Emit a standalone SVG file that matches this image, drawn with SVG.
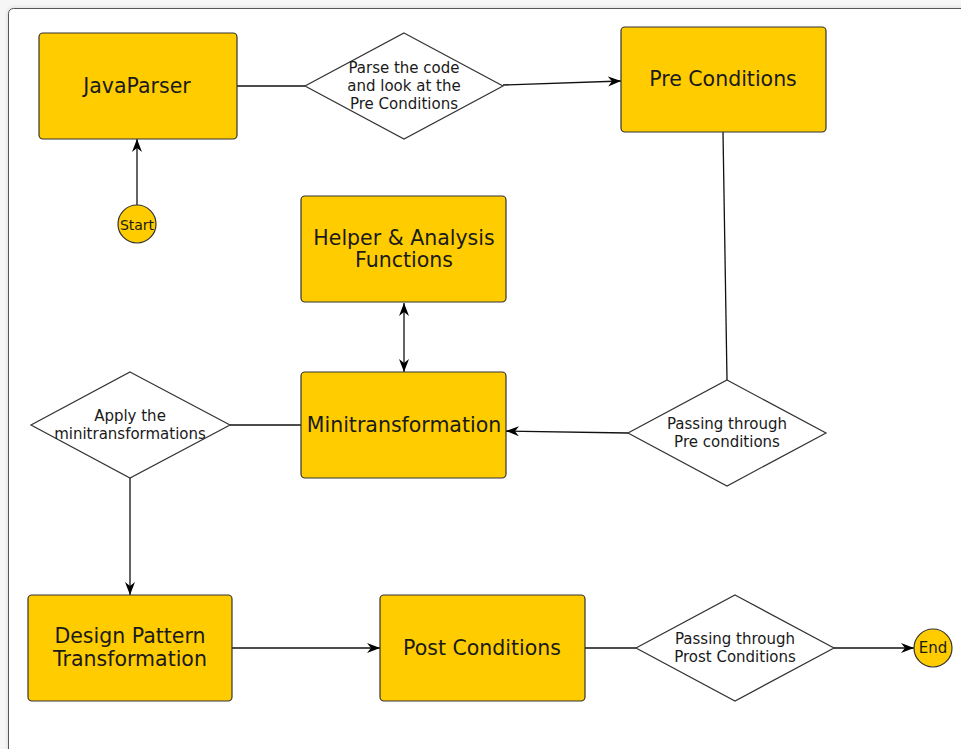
<svg xmlns="http://www.w3.org/2000/svg" width="961" height="749" viewBox="0 0 961 749">
  <defs>
    <marker id="arrow" markerWidth="14" markerHeight="12" viewBox="0 0 14 12" refX="13" refY="6" orient="auto-start-reverse" markerUnits="userSpaceOnUse">
      <path d="M0,1 L13,6 L0,11 L4,6 Z" fill="#000"/>
    </marker>
    <filter id="frameShadow" x="-5%" y="-5%" width="110%" height="110%">
      <feGaussianBlur in="SourceAlpha" stdDeviation="2"/>
      <feOffset dx="0" dy="0"/>
      <feComponentTransfer><feFuncA type="linear" slope="0.15"/></feComponentTransfer>
      <feMerge><feMergeNode/><feMergeNode in="SourceGraphic"/></feMerge>
    </filter>
  </defs>
  <style>
    .box { fill: #ffcc00; stroke: #333; stroke-width: 1.2; }
    .dia { fill: #fff; stroke: #333; stroke-width: 1.2; }
    .lbl { font-family: "DejaVu Sans", Verdana, sans-serif; fill: #1a1a1a; text-anchor: middle; dominant-baseline: central; }
    .big { font-size: 20.5px; }
    .small { font-size: 15px; }
    .tiny { font-size: 14px; }
    .conn line { stroke: #111; stroke-width: 1.3; fill: none; }
  </style>

  <!-- page background and canvas frame -->
  <rect x="0" y="0" width="961" height="749" fill="#f6f6f6"/>
  <rect x="8.5" y="8.5" width="980" height="780" rx="5" fill="#fff" stroke="#555" stroke-width="1" filter="url(#frameShadow)"/>

  <!-- connectors -->
  <g id="connectors" class="conn">
    <line x1="137" y1="205" x2="137" y2="139" marker-end="url(#arrow)"/>
    <line x1="237" y1="86" x2="305" y2="86"/>
    <line x1="503" y1="85" x2="621" y2="81" marker-end="url(#arrow)"/>
    <line x1="723" y1="132" x2="727" y2="380"/>
    <line x1="628" y1="433" x2="506" y2="431" marker-end="url(#arrow)"/>
    <line x1="404" y1="303" x2="404" y2="372" marker-start="url(#arrow)" marker-end="url(#arrow)"/>
    <line x1="301" y1="425" x2="230" y2="425"/>
    <line x1="130" y1="478" x2="130" y2="595" marker-end="url(#arrow)"/>
    <line x1="232" y1="648" x2="380" y2="648" marker-end="url(#arrow)"/>
    <line x1="585" y1="648" x2="636" y2="648"/>
    <line x1="834" y1="648" x2="914" y2="648" marker-end="url(#arrow)"/>
  </g>

  <!-- nodes -->
  <g id="start">
    <circle cx="137" cy="224" r="19" class="box"/>
    <text x="137" y="225" class="lbl tiny">Start</text>
  </g>

  <g id="javaparser">
    <rect x="39" y="33" width="198" height="106" rx="4" class="box"/>
    <text x="137" y="86" class="lbl big">JavaParser</text>
  </g>

  <g id="parse-decision">
    <polygon points="404,33 503,86 404,139 305,86" class="dia"/>
    <text x="404" y="68" class="lbl small">Parse the code</text>
    <text x="404" y="86" class="lbl small">and look at the</text>
    <text x="404" y="104" class="lbl small">Pre Conditions</text>
  </g>

  <g id="pre-conditions">
    <rect x="621" y="27" width="205" height="105" rx="4" class="box"/>
    <text x="723" y="79" class="lbl big">Pre Conditions</text>
  </g>

  <g id="helper">
    <rect x="301" y="196" width="205" height="106" rx="4" class="box"/>
    <text x="404" y="238" class="lbl big">Helper &amp; Analysis</text>
    <text x="404" y="260" class="lbl big">Functions</text>
  </g>

  <g id="minitransformation">
    <rect x="301" y="372" width="205" height="106" rx="4" class="box"/>
    <text x="404" y="425" class="lbl big">Minitransformation</text>
  </g>

  <g id="pre-check">
    <polygon points="727,380 826,433 727,486 628,433" class="dia"/>
    <text x="727" y="424" class="lbl small">Passing through</text>
    <text x="727" y="442" class="lbl small">Pre conditions</text>
  </g>

  <g id="apply-decision">
    <polygon points="130,372 230,425 130,478 31,425" class="dia"/>
    <text x="130" y="416" class="lbl small">Apply the</text>
    <text x="130" y="434" class="lbl small">minitransformations</text>
  </g>

  <g id="design-pattern">
    <rect x="28" y="595" width="204" height="106" rx="4" class="box"/>
    <text x="130" y="636" class="lbl big">Design Pattern</text>
    <text x="130" y="659" class="lbl big">Transformation</text>
  </g>

  <g id="post-conditions">
    <rect x="380" y="595" width="205" height="106" rx="4" class="box"/>
    <text x="482" y="648" class="lbl big">Post Conditions</text>
  </g>

  <g id="post-check">
    <polygon points="735,595 834,648 735,701 636,648" class="dia"/>
    <text x="735" y="639" class="lbl small">Passing through</text>
    <text x="735" y="657" class="lbl small">Prost Conditions</text>
  </g>

  <g id="end">
    <circle cx="933" cy="648" r="19" class="box"/>
    <text x="933" y="648" class="lbl small">End</text>
  </g>
</svg>
